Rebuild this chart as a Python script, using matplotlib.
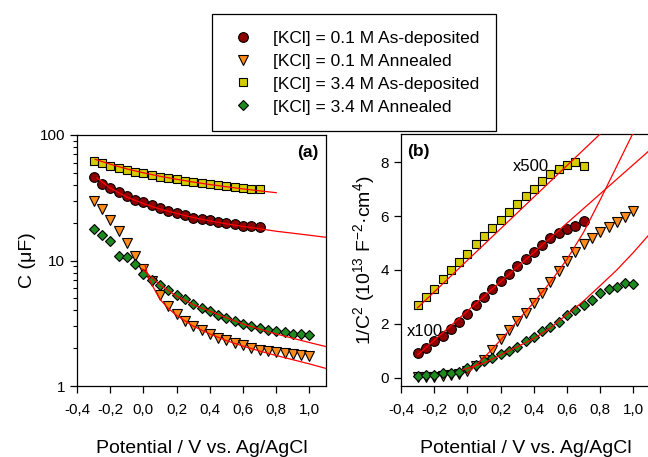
import numpy as np
import matplotlib
matplotlib.use('Agg')
import matplotlib.pyplot as plt
from matplotlib.lines import Line2D
from matplotlib.ticker import FuncFormatter, FixedLocator, NullFormatter, LogLocator

plt.rcParams['font.family'] = ['Liberation Sans', 'DejaVu Sans']
plt.rcParams['mathtext.fontset'] = 'custom'
plt.rcParams['mathtext.rm'] = 'Liberation Sans'
plt.rcParams['mathtext.it'] = 'Liberation Sans:italic'

# potentials (V vs. Ag/AgCl)
v_short = [-0.30, -0.25, -0.20, -0.15, -0.10, -0.05, 0.00, 0.05, 0.10, 0.15, 0.20,
           0.25, 0.30, 0.35, 0.40, 0.45, 0.50, 0.55, 0.60, 0.65, 0.70]
v_long = v_short + [0.75, 0.80, 0.85, 0.90, 0.95, 1.00]

# (a) capacitance, uF
c_asdep_01 = [46, 41, 38, 35, 32.5, 30.5, 29, 27.5, 26, 25, 24, 23, 22, 21.5, 21,
              20.3, 19.8, 19.4, 19, 18.7, 18.4]
c_ann_01 = [30, 25.7, 21, 17.1, 13.7, 10.8, 8.6, 6.9, 5.3, 4.35, 3.73, 3.28, 3.01, 2.78,
            2.62, 2.43, 2.31, 2.2, 2.11, 2.02, 1.95, 1.9, 1.87, 1.83, 1.81, 1.78, 1.73]
c_asdep_34 = [62.5, 59.5, 57, 55, 53, 51, 49.5, 48, 46.5, 45.3, 44.2, 43.2, 42.2, 41.3,
              40.5, 39.7, 39, 38.4, 37.8, 37.3, 37]
c_ann_34 = [17.7, 15.9, 14.3, 10.8, 10.7, 9.35, 7.87, 7.05, 6.36, 5.8, 5.35, 4.91, 4.54,
            4.22, 3.94, 3.71, 3.51, 3.3, 3.14, 3.01, 2.92, 2.81, 2.75, 2.68, 2.62, 2.58, 2.54]

# (b) 1/C^2, 10^13 F^-2 cm^4 (as-deposited scaled x100 / x500)
ms_asdep_01 = [0.92, 1.12, 1.35, 1.55, 1.8, 2.08, 2.38, 2.7, 3.0, 3.3, 3.6, 3.85, 4.15,
               4.4, 4.65, 4.92, 5.2, 5.38, 5.52, 5.62, 5.82]
ms_ann_01 = [0.02, 0.03, 0.04, 0.06, 0.1, 0.16, 0.26, 0.45, 0.67, 1.03, 1.43, 1.77, 2.1,
             2.41, 2.78, 3.15, 3.55, 3.96, 4.35, 4.66, 4.97, 5.19, 5.4, 5.59, 5.77, 5.98, 6.2]
ms_asdep_34 = [2.7, 3.0, 3.3, 3.65, 4.0, 4.3, 4.6, 4.95, 5.25, 5.55, 5.85, 6.15, 6.45,
               6.75, 7.0, 7.3, 7.55, 7.75, 7.9, 8.0, 7.85]
ms_ann_34 = [0.07, 0.1, 0.12, 0.17, 0.2, 0.23, 0.36, 0.48, 0.63, 0.75, 0.87, 1.0, 1.16,
             1.35, 1.51, 1.72, 1.9, 2.09, 2.34, 2.52, 2.71, 2.89, 3.16, 3.29, 3.38, 3.51, 3.48]

# fitted curves (red)
fa_sq_v = [-0.29, -0.2, -0.1, 0.0, 0.1, 0.2, 0.3, 0.4, 0.5, 0.6, 0.7, 0.8]
fa_sq_c = [64, 58.5, 53.7, 50.0, 46.9, 44.4, 42.2, 40.3, 38.7, 37.2, 35.9, 34.7]
fa_ci_v = [-0.28, -0.2, -0.1, 0.0, 0.1, 0.2, 0.3, 0.4, 0.5, 0.6, 0.7, 0.8, 0.9, 1.0, 1.1]
fa_ci_c = [45.5, 37.8, 32.0, 28.4, 25.7, 23.7, 22.0, 20.7, 19.6, 18.7, 17.9, 17.1, 16.5, 15.9, 15.3]
fa_tr_v = [0.01, 0.02, 0.03, 0.05, 0.1, 0.15, 0.2, 0.3, 0.4, 0.5, 0.6, 0.7, 0.8, 0.9, 1.0, 1.1]
fa_tr_c = [9.2, 8.2, 7.3, 6.46, 4.9, 4.15, 3.65, 3.0, 2.6, 2.3, 2.08, 1.9, 1.75, 1.62, 1.5, 1.38]
fa_di_v = [-0.01, 0.1, 0.2, 0.3, 0.4, 0.5, 0.6, 0.7, 0.8, 0.9, 1.0, 1.1]
fa_di_c = [8.6, 6.4, 5.2, 4.45, 3.95, 3.5, 3.12, 2.84, 2.6, 2.4, 2.22, 2.06]

fb_sq_v = [-0.3, 1.1]
fb_sq_y = [2.6, 10.8]
fb_ci_v = [-0.3, 1.1]
fb_ci_y = [0.85, 8.45]
fb_tr_v = [0.0, 0.1, 0.2, 0.3, 0.4, 0.5, 0.6, 0.7, 0.8, 0.9, 1.0, 1.05]
fb_tr_y = [0.18, 0.75, 1.4, 2.1, 2.8, 3.55, 4.4, 5.4, 6.6, 7.85, 9.1, 9.8]
fb_di_v = [-0.03, 0.1, 0.2, 0.3, 0.4, 0.5, 0.6, 0.7, 0.8, 0.9, 1.0, 1.1]
fb_di_y = [0.3, 0.55, 0.85, 1.15, 1.46, 1.85, 2.35, 2.85, 3.42, 4.0, 4.65, 5.35]

labels = ['[KCl] = 0.1 M As-deposited', '[KCl] = 0.1 M Annealed',
          '[KCl] = 3.4 M As-deposited', '[KCl] = 3.4 M Annealed']

sty = [dict(marker='o', ms=7.0, mfc='#8B0000'),
       dict(marker='v', ms=7.2, mfc='#FF8C1A'),
       dict(marker='s', ms=6.4, mfc='#D4CC00'),
       dict(marker='D', ms=5.6, mfc='#1F8A1F')]
for s in sty:
    s.update(mec='black', mew=0.8, ls='none')

fig = plt.figure(figsize=(6.48, 4.57), dpi=100)
ax1 = fig.add_axes([77/648, 1-386/457, 249/648, 251/457])
ax2 = fig.add_axes([401/648, 1-386/457, 249/648, 252/457])

fmt = FuncFormatter(lambda v, p: f'{v:.1f}'.replace('.', ','))

# panel (a)
ax1.plot(v_short, c_asdep_01, zorder=3, **sty[0])
ax1.plot(v_long, c_ann_01, zorder=3, **sty[1])
ax1.plot(v_short, c_asdep_34, zorder=3, **sty[2])
ax1.plot(v_long, c_ann_34, zorder=4, **sty[3])
for vv, cc in [(fa_sq_v, fa_sq_c), (fa_ci_v, fa_ci_c), (fa_tr_v, fa_tr_c), (fa_di_v, fa_di_c)]:
    ax1.plot(vv, cc, color='red', lw=0.9, zorder=5)
ax1.set_yscale('log')
ax1.set_ylim(1, 100)
ax1.set_xlim(-0.4, 1.1)
ax1.yaxis.set_major_locator(FixedLocator([1, 10, 100]))
ax1.yaxis.set_major_formatter(FuncFormatter(lambda v, p: f'{v:g}'))
ax1.yaxis.set_minor_locator(LogLocator(base=10, subs=np.arange(2, 10)))
ax1.yaxis.set_minor_formatter(NullFormatter())
ax1.set_ylabel('C (μF)', fontsize=14, labelpad=3)
ax1.text(0.968, 0.932, '(a)', transform=ax1.transAxes, ha='right', va='center',
         fontsize=12.5, fontweight='bold')

# panel (b)
ax2.plot(v_short, ms_asdep_01, zorder=3, **sty[0])
ax2.plot(v_long, ms_ann_01, zorder=2, **sty[1])
ax2.plot(v_short, ms_asdep_34, zorder=3, **sty[2])
ax2.plot(v_long, ms_ann_34, zorder=4, **sty[3])
for vv, yy in [(fb_sq_v, fb_sq_y), (fb_ci_v, fb_ci_y), (fb_tr_v, fb_tr_y), (fb_di_v, fb_di_y)]:
    ax2.plot(vv, yy, color='red', lw=0.9, zorder=5)
ax2.set_xlim(-0.4, 1.1)
ax2.set_ylim(-0.3, 9.04)
ax2.set_yticks([0, 2, 4, 6, 8])
ax2.set_ylabel('1/C$^2$ (10$^{13}$ F$^{-2}$·cm$^4$)', fontsize=14, labelpad=3)
ax2.text(0.024, 0.932, '(b)', transform=ax2.transAxes, ha='left', va='center',
         fontsize=12.5, fontweight='bold')
ax2.text(0.275, 7.83, 'x500', ha='left', va='center', fontsize=12, zorder=1)
ax2.text(-0.364, 1.71, 'x100', ha='left', va='center', fontsize=12, zorder=1)

for ax in (ax1, ax2):
    ax.set_xticks([-0.4, -0.2, 0.0, 0.2, 0.4, 0.6, 0.8, 1.0])
    ax.xaxis.set_major_formatter(fmt)
    ax.set_xlabel('Potential / V vs. Ag/AgCl', fontsize=14, labelpad=17)
    ax.tick_params(which='major', direction='out', length=5, width=0.9, labelsize=11)
    ax.tick_params(axis='x', which='major', pad=7)
    ax.tick_params(which='minor', direction='out', length=3, width=0.8)
    for sp in ax.spines.values():
        sp.set_linewidth(0.9)

handles = [Line2D([], [], **s) for s in sty]
leg = fig.legend(handles, labels, loc='upper left', bbox_to_anchor=(212/648, 1-14/457),
                 borderaxespad=0, fontsize=12.5, frameon=True, fancybox=False,
                 edgecolor='black', framealpha=1, borderpad=0.95, handlelength=1.67,
                 handletextpad=0.89, labelspacing=0.45)
leg.get_frame().set_linewidth(0.9)

fig.savefig('out.png', dpi=100)
